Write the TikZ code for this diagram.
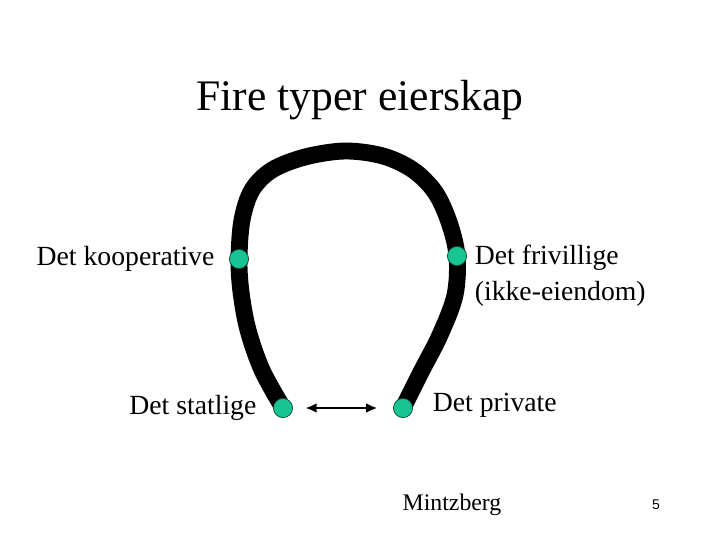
\documentclass[tikz,border=0pt]{standalone}
\usepackage{fontspec}
\setmainfont{Liberation Serif}
\newfontfamily\pagefont{Liberation Sans}
\usepackage{xcolor}
\usepackage{tikz}
\usetikzlibrary{positioning, arrows.meta, backgrounds}

\definecolor{dotgreen}{RGB}{24,196,148}
\definecolor{dotedge}{RGB}{20,70,50}

\begin{document}
\begin{tikzpicture}[x=0.025cm, y=-0.025cm]
    \tikzstyle{dot} = [circle, draw=dotedge, line width=0.5pt, fill=dotgreen, minimum size=0.48cm, inner sep=0pt]
    \tikzstyle{lbl} = [inner sep=0pt, font=\fontsize{19.7}{25.5}\selectfont, align=left]
    \tikzstyle{band} = [line width=12pt, line join=round, black]
    \useasboundingbox (0,0) rectangle (720,540);

    \node (title) at (360,100) [inner sep=0pt, font=\fontsize{31}{36}\selectfont] {Fire typer eierskap};

    \node (koop) at (239,259) [dot] {};
    \node (friv) at (457,256) [dot] {};
    \node (statlig) at (283,408) [dot] {};
    \node (privat) at (403,408) [dot] {};

    \node (koopTxt) [lbl, left = 0.36cm of koop] {Det kooperative};
    \node (frivTxt) [lbl, right = 0.19cm of friv, yshift=-0.5cm] {Det frivillige\\(ikke-eiendom)};
    \node (statligTxt) [lbl, left = 0.41cm of statlig] {Det statlige};
    \node (privatTxt) [lbl, right = 0.49cm of privat, yshift=0.08cm] {Det private};

    \node (kilde) at (452,505) [inner sep=0pt, font=\fontsize{16.9}{20}\selectfont] {Mintzberg};
    \node (side) at (656,505) [inner sep=0pt, font=\pagefont\fontsize{10}{12}\selectfont] {5};

    \begin{scope}[on background layer]
        \draw[band] plot[smooth, tension=0.55] coordinates {(statlig.center) (262,370) (248,330) (241,292) (koop.center) (242,220) (252,190) (272,170) (305,157) (345,151) (383,156) (413,170) (435,192) (449,222) (friv.center) (455,295) (440,335) (421,372) (privat.center)};
    \end{scope}

    \draw[{Latex[length=8pt, width=7pt]}-{Latex[length=8pt, width=7pt]}, line width=2pt, shorten <=0.31cm, shorten >=0.39cm] (statlig) -- (privat);
\end{tikzpicture}
\end{document}
